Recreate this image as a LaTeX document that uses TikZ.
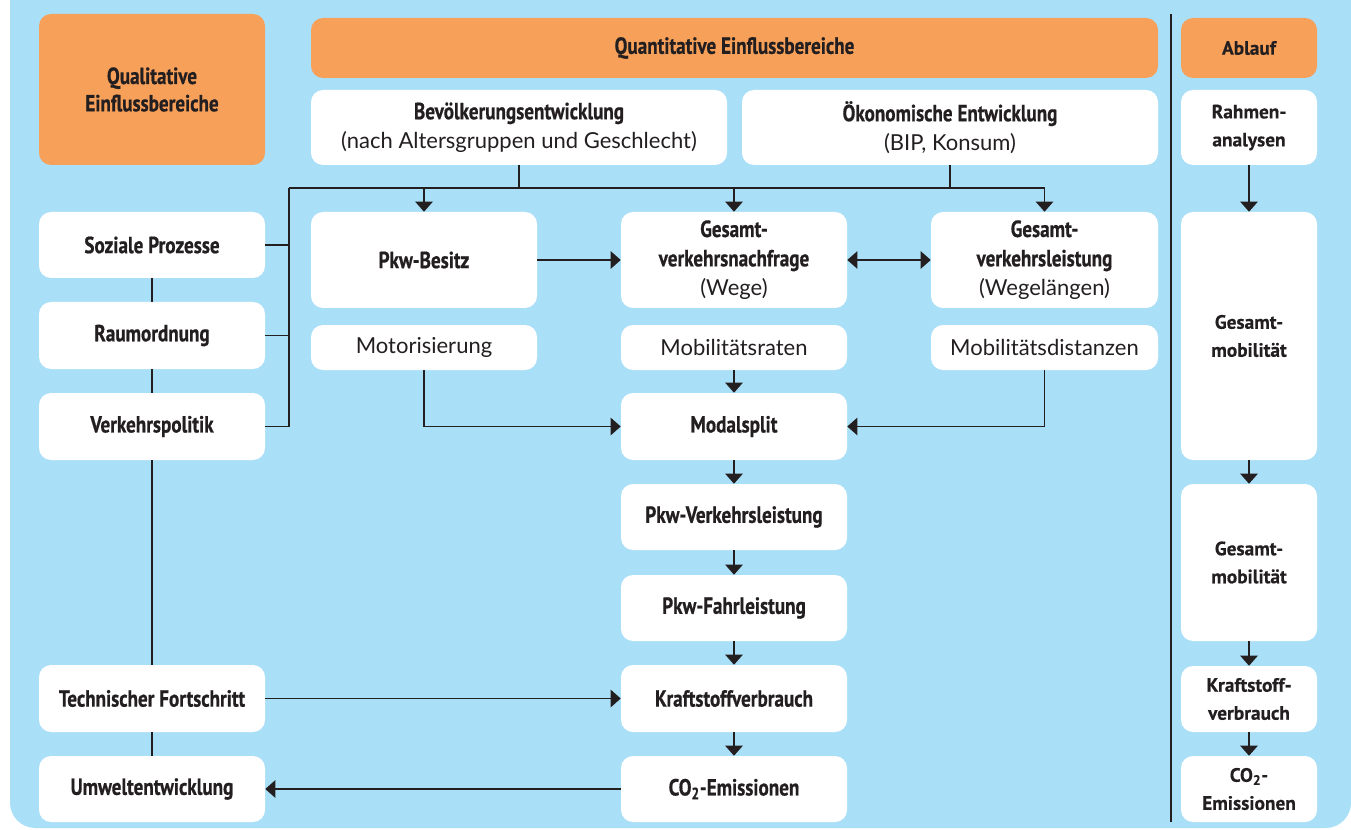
\documentclass[tikz,border=0pt]{standalone}
\usepackage{fontspec}
\setmainfont{Lato}
\newfontfamily\cnd[FakeStretch=0.82,FakeBold=0.6]{PT Sans}
\newfontfamily\wid[FakeBold=0.4]{PT Sans}
\usetikzlibrary{arrows.meta}
\definecolor{bg}{HTML}{AADFF8}
\definecolor{org}{HTML}{F7A05A}
\definecolor{ink}{HTML}{231F20}
\newcommand\bb[1]{{\cnd\bfseries\fontsize{17.5}{22}\selectfont #1}}
\tikzset{
 box/.style={fill=white, rounded corners=9pt, inner sep=0pt, align=center, text=ink, font=\fontsize{16.5}{22}\selectfont},
 hdr/.style={box, fill=org},
 wh/.style 2 args={minimum width=#1*0.75pt, minimum height=#2*0.75pt},
 bld/.style={font=\cnd\bfseries\fontsize{17.5}{20.5}\selectfont},
 rcol/.style={font=\wid\bfseries\fontsize{14.5}{21}\selectfont},
 ln/.style={draw=ink, line width=1pt},
 arr/.style={ln, -{Triangle[length=7.5pt,width=13pt]}},
 darr/.style={ln, {Triangle[length=7.5pt,width=13pt]}-{Triangle[length=7.5pt,width=13pt]}},
}
\begin{document}
\begin{tikzpicture}[x=0.75pt,y=-0.75pt]
\useasboundingbox (0,0) rectangle (1351,830);
\begin{scope}
\clip (0,0) rectangle (1351,830);
\fill[bg, rounded corners=19pt] (10,-40) rectangle (1351,828);
\end{scope}
% separator
\draw[ink, line width=0.9pt] (1171,14) -- (1171,822);

% headers
\node[hdr, wh={226}{151}, bld] (qual) at (152,89.5) {Qualitative\\Einflussbereiche};
\node[hdr, wh={847}{60}, bld] (quant) at (734.5,48) {Quantitative Einflussbereiche};
\node[hdr, wh={136}{60}, rcol] (abl) at (1249,48) {Ablauf};

% top row
\node[box, wh={416}{75}] (bev) at (519,127.5) {\bb{Bevölkerungsentwicklung}\\(nach Altersgruppen und Geschlecht)};
\node[box, wh={416}{75}] (oek) at (950,127.5) {\bb{Ökonomische Entwicklung}\\(BIP, Konsum)};

% left column
\node[box, wh={226}{66}, bld] (soz) at (152,245) {Soziale Prozesse};
\node[box, wh={226}{67}, bld] (raum) at (152,335.5) {Raumordnung};
\node[box, wh={226}{67}, bld] (verk) at (152,426.5) {Verkehrspolitik};
\node[box, wh={226}{67}, bld] (tech) at (152,698.5) {Technischer Fortschritt};
\node[box, wh={226}{66}, bld] (umw) at (152,789) {Umweltentwicklung};

% middle
\node[box, wh={226}{96}, bld] (pkwb) at (424,260) {Pkw-Besitz};
\node[box, wh={226}{45}] (motor) at (424,347.5) {Motorisierung};
\node[box, wh={226}{96}] (gnach) at (734,260) {\bb{Gesamt-}\\\bb{verkehrsnachfrage}\\(Wege)};
\node[box, wh={226}{45}] (mrat) at (734,347.5) {Mobilitätsraten};
\node[box, wh={227}{96}] (gleist) at (1044.5,260) {\bb{Gesamt-}\\\bb{verkehrsleistung}\\(Wegelängen)};
\node[box, wh={227}{45}] (mdist) at (1044.5,347.5) {Mobilitätsdistanzen};
\node[box, wh={226}{67}, bld] (modal) at (734,426.5) {Modalsplit};
\node[box, wh={226}{66}, bld] (pkwvl) at (734,517) {Pkw-Verkehrsleistung};
\node[box, wh={226}{66}, bld] (pkwfl) at (734,608) {Pkw-Fahrleistung};
\node[box, wh={226}{67}, bld] (kraft) at (734,698.5) {Kraftstoffverbrauch};
\node[box, wh={226}{66}, bld] (co2) at (734,789) {CO\textsubscript{2}-Emissionen};

% right column
\node[box, wh={136}{75}, rcol] (rahm) at (1249,127.5) {Rahmen-\\analysen};
\node[box, wh={136}{248}, rcol] (rgm1) at (1249,336) {Gesamt-\\mobilität};
\node[box, wh={136}{157}, rcol] (rgm2) at (1249,562.5) {Gesamt-\\mobilität};
\node[box, wh={136}{66}, rcol] (rkraft) at (1249,699) {Kraftstoff-\\verbrauch};
\node[box, wh={136}{66}, rcol] (rco2) at (1249,789) {CO\textsubscript{2}-\\Emissionen};

% coordinates
\coordinate (busL) at (289,188);

% left column links
\draw[ln] (soz.south) -- (raum.north);
\draw[ln] (raum.south) -- (verk.north);
\draw[ln] (verk.south) -- (tech.north);
\draw[ln] (tech.south) -- (umw.north);

% bus
\draw[ln] (busL) -- (gleist.north |- busL);
\draw[ln] (bev.south) -- (bev.south |- busL);
\draw[ln] (oek.south) -- (oek.south |- busL);
\draw[ln] (busL) -- (busL |- verk.east) -- (verk.east);
\draw[ln] (soz.east) -- (soz.east -| busL);
\draw[ln] (raum.east) -- (raum.east -| busL);
\draw[arr] (pkwb.north |- busL) -- (pkwb.north);
\draw[arr] (gnach.north |- busL) -- (gnach.north);
\draw[arr] (gleist.north |- busL) -- (gleist.north);

% middle links
\draw[arr] (pkwb.east) -- (gnach.west);
\draw[darr] (gnach.east) -- (gleist.west);
\draw[arr] (mrat.south) -- (modal.north);
\draw[arr] (motor.south) -- (motor.south |- modal.west) -- (modal.west);
\draw[arr] (mdist.south) -- (mdist.south |- modal.east) -- (modal.east);
\draw[arr] (modal.south) -- (pkwvl.north);
\draw[arr] (pkwvl.south) -- (pkwfl.north);
\draw[arr] (pkwfl.south) -- (kraft.north);
\draw[arr] (kraft.south) -- (co2.north);
\draw[arr] (tech.east) -- (kraft.west);
\draw[arr] (co2.west) -- (umw.east);

% right column links
\draw[arr] (rahm.south) -- (rgm1.north);
\draw[arr] (rgm1.south) -- (rgm2.north);
\draw[arr] (rgm2.south) -- (rkraft.north);
\draw[arr] (rkraft.south) -- (rco2.north);
\end{tikzpicture}
\end{document}
